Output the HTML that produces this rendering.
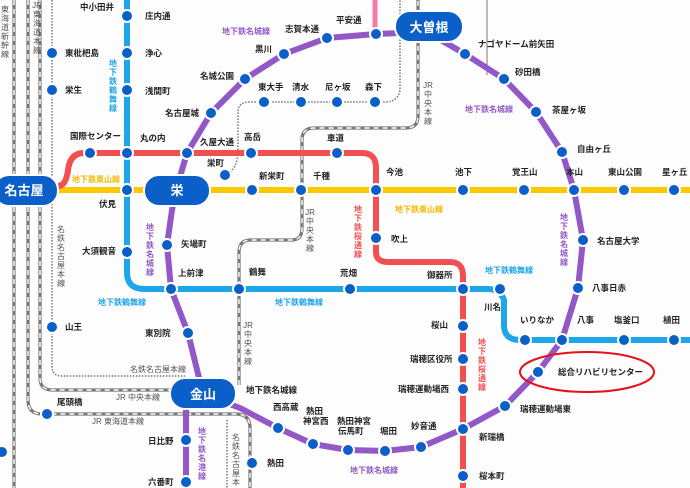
<!DOCTYPE html>
<html><head><meta charset="utf-8"><style>
html,body{margin:0;padding:0;background:#fff;}
svg{display:block;font-family:"Liberation Sans","Noto Sans CJK JP",sans-serif;}
.s{font-size:8.5px;font-weight:bold;fill:#222;}
.l{font-size:8px;font-weight:bold;}
.g{font-size:8px;fill:#555;}
</style></head><body>
<svg width="690" height="488" viewBox="0 0 690 488" xmlns="http://www.w3.org/2000/svg">
<rect width="690" height="488" fill="#fdfdfd"/>
<defs>
<g id="jr">
<path d="M14 0 V488"/>
<path d="M28 0 V400 Q28 414 42 414 H236 Q250 414 250 428 V488"/>
<path d="M40 0 V378 Q40 390 52 390 H190"/>
<path d="M239 385 V252 Q239 240 251 240 H292 Q302 240 302 228 V140 Q302 128 314 128 H406 Q418 128 418 116 V0"/>
</g>
</defs>
<g fill="none" stroke="#777" stroke-width="3.2"><use href="#jr"/></g>
<g fill="none" stroke="#fff" stroke-width="1.4" stroke-dasharray="5 4"><use href="#jr"/></g>
<g fill="none" stroke="#777" stroke-width="1.5">
<path d="M52 0 V366 Q52 376 62 376 H185" stroke-dasharray="1.5 1.5"/>
<path d="M227 420 V488" stroke-dasharray="1.5 1.5"/>
<path d="M225 175 Q238 170 238 150 V112 Q238 102 250 102 H385 Q398 102 400 90 V0" stroke-dasharray="1.5 1.5"/>
<path d="M487 0 V75" stroke-width="1"/>
<path d="M440 42 Q475 55 500 76" stroke-width="1"/>
</g>
<!-- pink -->
<path d="M375 0 V30" stroke="#f37aa6" stroke-width="5" fill="none"/>
<!-- Tsurumai -->
<path d="M127 0 V272 Q127 289 144 289 H488 Q500 289 504 300 V325 Q504 340 520 340 H690" stroke="#1ea6ea" stroke-width="6" fill="none"/>
<!-- Higashiyama -->
<path d="M0 190 H690" stroke="#fcc800" stroke-width="6"/>
<!-- Sakuradori -->
<path d="M58 186 Q66 186 68 170 Q70 153 84 153 H362 Q376 153 376 168 V252 Q376 262 388 262 H450 Q463 262 463 276 V488" stroke="#f05050" stroke-width="6" fill="none"/>
<!-- Meiko -->
<path d="M186 395 V488" stroke="#9358c8" stroke-width="6"/>
<!-- Meijo -->
<path d="M376 34 L427 32 L465 54 L504 79 L536 112 L562 152 L574 190 L583 240 L578 288 L562 340 L538 372 L505 406 L463 429 L421 447 L385 451 L348 450 L313 444 L278 428 L240 408 L203 394 L188 333 L171 289 L167 245 L172 210 L176 190 L187 153 L211 113 L245 79 L284 54 L327 38 Z" stroke="#9358c8" stroke-width="6" fill="none" stroke-linejoin="round"/>
<!-- red ellipse -->
<ellipse cx="587" cy="372" rx="67" ry="20" fill="none" stroke="#e8101a" stroke-width="2"/>
<!-- stations -->
<g fill="#0a5fc8" stroke="#fff" stroke-width="2">
<circle cx="127" cy="16" r="6"/><circle cx="127" cy="53" r="6"/><circle cx="127" cy="90" r="6"/><circle cx="127" cy="153" r="6"/><circle cx="127" cy="190" r="6"/><circle cx="127" cy="252" r="6"/>
<circle cx="52" cy="53" r="6"/><circle cx="52" cy="90" r="6"/><circle cx="52" cy="327" r="6"/><circle cx="47" cy="414" r="6"/><circle cx="2" cy="452" r="6"/>
<circle cx="90" cy="153" r="6"/><circle cx="187" cy="153" r="6"/><circle cx="251" cy="153" r="6"/><circle cx="337" cy="153" r="6"/>
<circle cx="225" cy="175" r="6"/><circle cx="264" cy="102" r="6"/><circle cx="301" cy="102" r="6"/><circle cx="337" cy="102" r="6"/><circle cx="375" cy="102" r="6"/>
<circle cx="252" cy="190" r="6"/><circle cx="301" cy="190" r="6"/><circle cx="376" cy="190" r="6"/><circle cx="463" cy="190" r="6"/><circle cx="524" cy="190" r="6"/><circle cx="574" cy="190" r="6"/><circle cx="624" cy="190" r="6"/><circle cx="674" cy="190" r="6"/>
<circle cx="376" cy="238" r="6"/><circle cx="463" cy="289" r="6"/><circle cx="463" cy="326" r="6"/><circle cx="463" cy="359" r="6"/><circle cx="463" cy="389" r="6"/><circle cx="463" cy="429" r="6"/><circle cx="463" cy="476" r="6"/>
<circle cx="171" cy="289" r="6"/><circle cx="239" cy="289" r="6"/><circle cx="350" cy="289" r="6"/><circle cx="500" cy="289" r="6"/><circle cx="525" cy="340" r="6"/><circle cx="562" cy="340" r="6"/><circle cx="624" cy="340" r="6"/><circle cx="674" cy="340" r="6"/>
<circle cx="376" cy="34" r="6"/><circle cx="465" cy="54" r="6"/><circle cx="504" cy="79" r="6"/><circle cx="536" cy="112" r="6"/><circle cx="562" cy="152" r="6"/><circle cx="583" cy="240" r="6"/><circle cx="578" cy="288" r="6"/><circle cx="538" cy="372" r="6"/><circle cx="505" cy="406" r="6"/><circle cx="421" cy="447" r="6"/><circle cx="385" cy="451" r="6"/><circle cx="348" cy="450" r="6"/><circle cx="313" cy="444" r="6"/><circle cx="278" cy="428" r="6"/>
<circle cx="188" cy="333" r="6"/><circle cx="167" cy="245" r="6"/><circle cx="211" cy="113" r="6"/><circle cx="245" cy="79" r="6"/><circle cx="284" cy="54" r="6"/><circle cx="327" cy="38" r="6"/>
<circle cx="186" cy="440" r="6"/><circle cx="186" cy="482" r="6"/><circle cx="252" cy="463" r="6"/>
</g>
<!-- pills -->
<g fill="#0a5fc8" stroke="#fff" stroke-width="2">
<rect x="-6" y="175" width="64" height="31" rx="15"/>
<rect x="144" y="175" width="66" height="31" rx="15"/>
<rect x="395" y="11" width="68" height="31" rx="15"/>
<rect x="170" y="378" width="66" height="31" rx="15"/>
</g>
<g fill="#fff" font-size="13" font-weight="bold" text-anchor="middle">
<text x="24" y="195">名古屋</text><text x="177" y="195">栄</text><text x="429" y="32">大曽根</text><text x="203" y="399">金山</text>
</g>
<!-- station labels -->
<g class="s">
<text x="80" y="10">中小田井</text><text x="145" y="19">庄内通</text><text x="145" y="56">浄心</text><text x="145" y="94">浅間町</text>
<text x="65" y="56">東枇杷島</text><text x="65" y="93">栄生</text><text x="65" y="330">山王</text><text x="57" y="405">尾頭橋</text>
<text x="70" y="139">国際センター</text><text x="140" y="141">丸の内</text><text x="200" y="145">久屋大通</text><text x="244" y="140">高岳</text><text x="327" y="141">車道</text>
<text x="207" y="166">栄町</text><text x="258" y="90">東大手</text><text x="292" y="90">清水</text><text x="325" y="90">尼ヶ坂</text><text x="365" y="90">森下</text>
<text x="200" y="79">名城公園</text><text x="255" y="52">黒川</text><text x="285" y="32">志賀本通</text><text x="336" y="23">平安通</text><text x="165" y="116">名古屋城</text>
<text x="259" y="179">新栄町</text><text x="313" y="179">千種</text><text x="386" y="175">今池</text><text x="455" y="175">池下</text><text x="512" y="175">覚王山</text><text x="566" y="175">本山</text><text x="608" y="175">東山公園</text><text x="662" y="175">星ヶ丘</text>
<text x="99" y="207">伏見</text><text x="82" y="254">大須観音</text><text x="181" y="247">矢場町</text><text x="391" y="242">吹上</text>
<text x="178" y="276">上前津</text><text x="249" y="275">鶴舞</text><text x="340" y="276">荒畑</text><text x="427" y="278">御器所</text><text x="484" y="310">川名</text>
<text x="520" y="323">いりなか</text><text x="577" y="323">八事</text><text x="614" y="323">塩釜口</text><text x="663" y="323">植田</text>
<text x="478" y="47">ナゴヤドーム前矢田</text><text x="515" y="75">砂田橋</text><text x="552" y="113">茶屋ヶ坂</text><text x="577" y="152">自由ヶ丘</text><text x="597" y="244">名古屋大学</text><text x="592" y="291">八事日赤</text>
<text x="558" y="375">総合リハビリセンター</text><text x="520" y="412">瑞穂運動場東</text><text x="479" y="440">新瑞橋</text><text x="479" y="479">桜本町</text>
<text x="431" y="328">桜山</text><text x="410" y="362">瑞穂区役所</text><text x="398" y="392">瑞穂運動場西</text><text x="411" y="429">妙音通</text><text x="380" y="434">堀田</text>
<text x="337" y="424">熱田神宮</text><text x="338" y="434">伝馬町</text><text x="306" y="414">熱田</text><text x="303" y="424">神宮西</text><text x="273" y="410">西高蔵</text><text x="246" y="393">地下鉄名城線</text>
<text x="145" y="336">東別院</text><text x="148" y="444">日比野</text><text x="148" y="485">六番町</text><text x="267" y="466">熱田</text>
</g>
<!-- line labels -->
<g class="l">
<text x="222" y="34" fill="#9358c8">地下鉄名城線</text><text x="465" y="112" fill="#9358c8">地下鉄名城線</text><text x="350" y="473" fill="#9358c8">地下鉄名城線</text>
<text x="72" y="182" fill="#f5b800">地下鉄東山線</text><text x="395" y="212" fill="#f5b800">地下鉄東山線</text>
<text x="98" y="305" fill="#1ea6ea">地下鉄鶴舞線</text><text x="275" y="305" fill="#1ea6ea">地下鉄鶴舞線</text><text x="485" y="273" fill="#1ea6ea">地下鉄鶴舞線</text>
</g>
<g class="l" text-anchor="middle">
<g fill="#1ea6ea"><text x="113" y="66">地</text><text x="113" y="75">下</text><text x="113" y="84">鉄</text><text x="113" y="93">鶴</text><text x="113" y="102">舞</text><text x="113" y="111">線</text></g>
<g fill="#9358c8"><text x="150" y="230">地</text><text x="150" y="239">下</text><text x="150" y="248">鉄</text><text x="150" y="257">名</text><text x="150" y="266">城</text><text x="150" y="275">線</text></g>
<g fill="#9358c8"><text x="564" y="220">地</text><text x="564" y="229">下</text><text x="564" y="238">鉄</text><text x="564" y="247">名</text><text x="564" y="256">城</text><text x="564" y="265">線</text></g>
<g fill="#9358c8"><text x="202" y="434">地</text><text x="202" y="443">下</text><text x="202" y="452">鉄</text><text x="202" y="461">名</text><text x="202" y="470">港</text><text x="202" y="479">線</text></g>
<g fill="#f05050"><text x="358" y="212">地</text><text x="358" y="221">下</text><text x="358" y="230">鉄</text><text x="358" y="239">桜</text><text x="358" y="248">通</text><text x="358" y="257">線</text></g>
<g fill="#f05050"><text x="482" y="345">地</text><text x="482" y="354">下</text><text x="482" y="363">鉄</text><text x="482" y="372">桜</text><text x="482" y="381">通</text><text x="482" y="390">線</text></g>
</g>
<g class="g" text-anchor="middle">
<text x="5" y="12">東</text><text x="5" y="21">海</text><text x="5" y="30">道</text><text x="5" y="39">新</text><text x="5" y="48">幹</text><text x="5" y="57">線</text>
<text x="37" y="8">JR</text><text x="37" y="17">東</text><text x="37" y="26">海</text><text x="37" y="35">道</text><text x="37" y="44">本</text><text x="37" y="53">線</text>
<text x="61" y="232">名</text><text x="61" y="241">鉄</text><text x="61" y="250">名</text><text x="61" y="259">古</text><text x="61" y="268">屋</text><text x="61" y="277">本</text><text x="61" y="286">線</text>
<text x="310" y="215">JR</text><text x="310" y="224">中</text><text x="310" y="233">央</text><text x="310" y="242">本</text><text x="310" y="251">線</text>
<text x="248" y="328">JR</text><text x="248" y="337">中</text><text x="248" y="346">央</text><text x="248" y="355">本</text><text x="248" y="364">線</text>
<text x="428" y="88">JR</text><text x="428" y="97">中</text><text x="428" y="106">央</text><text x="428" y="115">本</text><text x="428" y="124">線</text>
<text x="236" y="440">名</text><text x="236" y="449">鉄</text><text x="236" y="458">名</text><text x="236" y="467">古</text><text x="236" y="476">屋</text><text x="236" y="485">本</text>
<text x="158" y="372">名鉄名古屋本線</text><text x="138" y="400">JR 中央本線</text><text x="118" y="424">JR 東海道本線</text>
</g>
</svg>
</body></html>
